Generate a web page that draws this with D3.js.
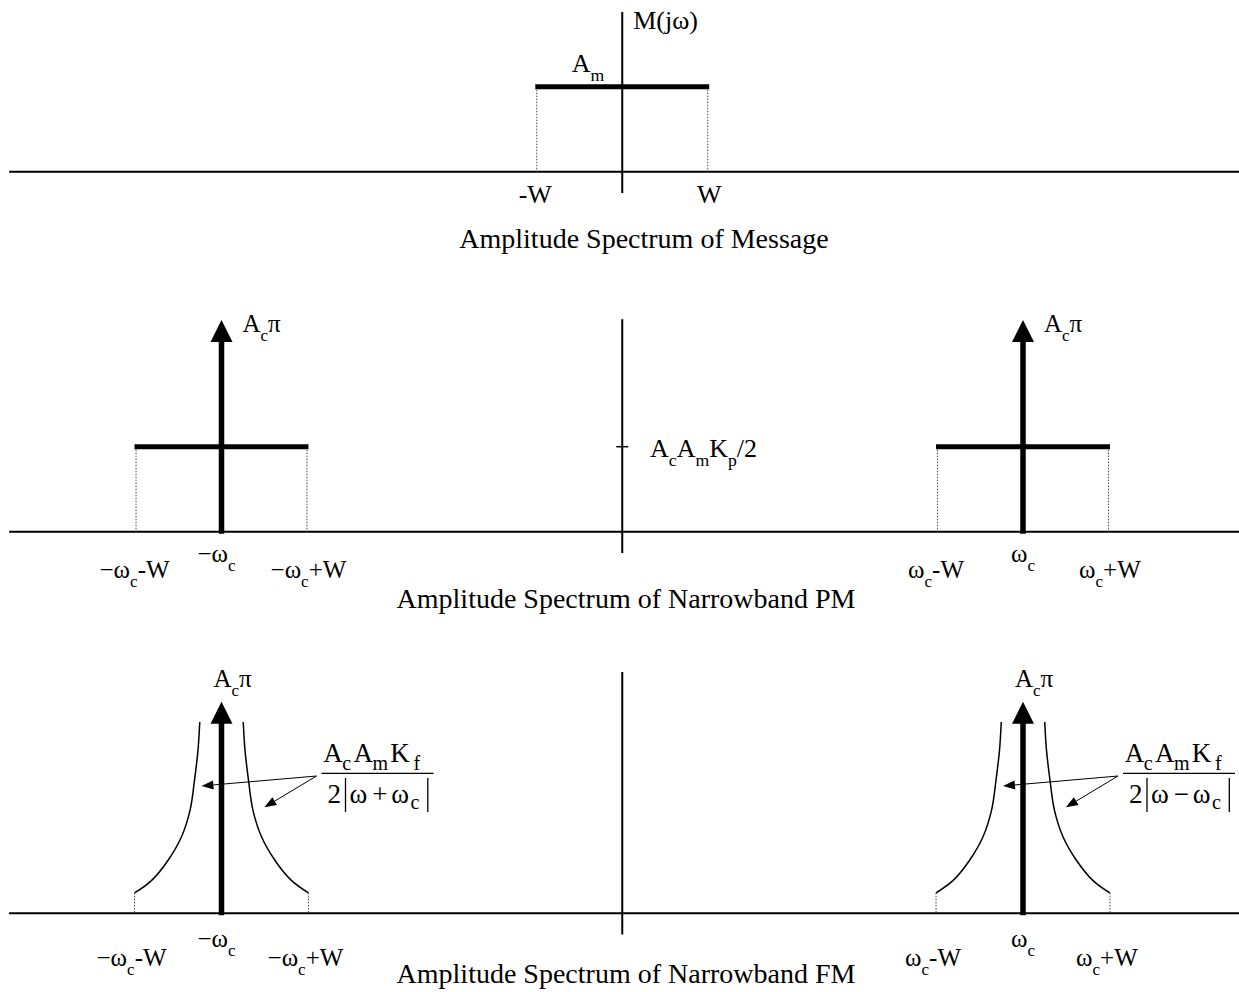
<!DOCTYPE html>
<html>
<head>
<meta charset="utf-8">
<script src="https://cdn.jsdelivr.net/npm/d3@7"></script>
<style>
  body { margin: 0; background: #fff; }
  text { font-family: "Liberation Serif", "Times New Roman", serif; fill: #000; }
</style>
</head>
<body>
<div id="chart"></div>
<script>
// frequencies are in units of the carrier wc, amplitudes in units of the message level Am
var wc = 1;
var W = 0.217;
var axisExtent = [-1.53, 1.54];

var messageLevel = 1;
var messageTicks = ["-W", "W"];

var carriers = [-wc, wc];
var carrierLabels = ["−ω_c", "ω_c"];
var edgeLabels = [["−ω_c-W", "−ω_c+W"], ["ω_c-W", "ω_c+W"]];
var impulseHeight = 2.49;
var pmLevel = 1;

// FM sidebands, offset from the carrier (in units of W) and level
var fmOffset = [0.25, 0.27, 0.31, 0.36, 0.46, 0.61, 0.80, 1.0];
var fmLevel  = [2.25, 1.92, 1.57, 1.22, 0.90, 0.63, 0.39, 0.24];

// annotation arrows: tail and tips, offset from the carrier (wc units) and level
var noteTail = [0.237, 1.615];
var noteTips = [[-0.05, 1.498], [0.107, 1.247]];

var titles = ["Amplitude Spectrum of Message",
              "Amplitude Spectrum of Narrowband PM",
              "Amplitude Spectrum of Narrowband FM"];

var svgWidth = 1239, svgHeight = 992;

var svg = d3.select("#chart").append("svg")
  .attr("width", svgWidth)
  .attr("height", svgHeight);

var x = d3.scaleLinear().domain([-wc, wc]).range([221.5, 1023]);

function yFor(base) {
  return d3.scaleLinear().domain([0, 1]).range([base, base - 85]);
}

// text with "_c" style subscripts
function richText(g, str, px, py, size, anchor) {
  var t = g.append("text")
    .attr("x", px).attr("y", py)
    .attr("font-size", size)
    .attr("text-anchor", anchor || "middle");
  var parts = str.split(/(_.)/).filter(function(s) { return s.length; });
  var cur = 0;
  parts.forEach(function(p) {
    var sub = p[0] === "_";
    var want = sub ? size * 0.36 : 0;
    t.append("tspan")
      .attr("dy", want - cur)
      .attr("font-size", sub ? size * 0.68 : size)
      .text(sub ? p[1] : p);
    cur = want;
  });
  return t;
}

function line(g, x1, y1, x2, y2, w) {
  return g.append("line")
    .attr("x1", x1).attr("y1", y1).attr("x2", x2).attr("y2", y2)
    .attr("stroke", "#000").attr("stroke-width", w);
}

function dotted(g, px, y1, y2) {
  return g.append("line")
    .attr("x1", px).attr("y1", y1).attr("x2", px).attr("y2", y2)
    .attr("stroke", "#444").attr("stroke-width", 1)
    .attr("stroke-dasharray", "1.5,1.5");
}

function impulse(g, y, f) {
  var top = y(impulseHeight);
  line(g, x(f), y(0) + 2, x(f), top + 18, 5.5);
  g.append("path")
    .attr("d", "M" + (x(f) - 11) + "," + (top + 22) + "L" + x(f) + "," + top + "L" + (x(f) + 11) + "," + (top + 22) + "Z")
    .attr("fill", "#000");
}

function frame(g, y, lo, hi) {
  line(g, x(axisExtent[0]), y(0), x(axisExtent[1]), y(0), 2);
  line(g, x(0), y(lo), x(0), y(hi), 2);
}

// ---------- panel 1: message ----------
var y1 = yFor(171.7);
var p1 = svg.append("g");
frame(p1, y1, -0.25, 1.88);
dotted(p1, x(-W) + 1.5, y1(messageLevel), y1(0));
dotted(p1, x(W) - 1.5, y1(messageLevel), y1(0));
line(p1, x(-W), y1(messageLevel), x(W), y1(messageLevel), 5);
richText(p1, "M(jω)", x(0) + 11, 29, 26, "start");
richText(p1, "A_m", 571.7, 71.7, 26, "start");
[-W, W].forEach(function(f, i) {
  richText(p1, messageTicks[i], x(f), 203, 26);
});
p1.append("text").attr("x", 644).attr("y", 248).attr("font-size", 28)
  .attr("text-anchor", "middle").text(titles[0]);

// ---------- panel 2: narrowband PM ----------
var y2 = yFor(531.7);
var p2 = svg.append("g");
frame(p2, y2, -0.25, 2.5);
line(p2, x(0) - 6, y2(pmLevel), x(0) + 6, y2(pmLevel), 1.5);
richText(p2, "A_cA_mK_p/2", 650, 456.7, 26, "start");
carriers.forEach(function(f, i) {
  dotted(p2, x(f - W) + 1.5, y2(pmLevel), y2(0));
  dotted(p2, x(f + W) - 1.5, y2(pmLevel), y2(0));
  line(p2, x(f - W), y2(pmLevel), x(f + W), y2(pmLevel), 5);
  impulse(p2, y2, f);
  richText(p2, "A_cπ", x(f) + 21, 331.7, 25, "start");
  richText(p2, carrierLabels[i], x(f) - (i ? 0 : 5), 562, 25);
  richText(p2, edgeLabels[i][0], x(f - W), 578, 25);
  richText(p2, edgeLabels[i][1], x(f + W), 578, 25);
});
p2.append("text").attr("x", 626).attr("y", 608).attr("font-size", 28)
  .attr("text-anchor", "middle").text(titles[1]);

// ---------- panel 3: narrowband FM ----------
var y3 = yFor(913.3);
var p3 = svg.append("g");
frame(p3, y3, -0.25, 2.84);

var sideband = d3.line().curve(d3.curveCatmullRom.alpha(0.5));

carriers.forEach(function(f, i) {
  var right = fmOffset.map(function(d, k) { return [x(f + d * W), y3(fmLevel[k])]; });
  var left = fmOffset.map(function(d, k) { return [x(f - d * W), y3(fmLevel[k])]; });
  [left, right].forEach(function(pts) {
    p3.append("path").attr("d", sideband(pts))
      .attr("fill", "none").attr("stroke", "#000").attr("stroke-width", 1.5);
  });
  dotted(p3, x(f - W), y3(fmLevel[fmLevel.length - 1]), y3(0));
  dotted(p3, x(f + W), y3(fmLevel[fmLevel.length - 1]), y3(0));
  impulse(p3, y3, f);
  richText(p3, "A_cπ", x(f) + 11, 687, 25);
  richText(p3, carrierLabels[i], x(f) - (i ? 0 : 5), 947, 25);
  richText(p3, edgeLabels[i][0], x(f - W) - 3, 966, 25);
  richText(p3, edgeLabels[i][1], x(f + W) - 3, 966, 25);

  // annotation arrows
  var tx = x(f + noteTail[0]), ty = y3(noteTail[1]);
  noteTips.forEach(function(tp) {
    var hx = x(f + tp[0]), hy = y3(tp[1]);
    var ang = Math.atan2(hy - ty, hx - tx);
    var len = 12, half = 4.5;
    var bx = hx - len * Math.cos(ang), by = hy - len * Math.sin(ang);
    line(p3, tx, ty, bx, by, 1);
    p3.append("path")
      .attr("d", "M" + hx + "," + hy +
        "L" + (bx + half * Math.sin(ang)) + "," + (by - half * Math.cos(ang)) +
        "L" + (bx - half * Math.sin(ang)) + "," + (by + half * Math.cos(ang)) + "Z")
      .attr("fill", "#000");
  });

  // the fraction  AcAmKf / 2|w -+ wc|
  var fx = x(f) + 100, fy = 773.3;
  line(p3, fx, fy, fx + 112, fy, 1.2);
  var num = [["A", 1.7, 0], ["c", 20.7, 1], ["A", 32, 0], ["m", 51, 1], ["K", 68.7, 0], ["f", 92, 1]];
  num.forEach(function(d) {
    p3.append("text").attr("x", fx + d[1]).attr("y", d[2] ? 769.5 : 762)
      .attr("font-size", d[2] ? 20 : 27).text(d[0]);
  });
  var den = [["2", 6, 0], ["ω", 28, 0], [i ? "−" : "+", 50.7, 0], ["ω", 69.7, 0], ["c", 89, 1]];
  den.forEach(function(d) {
    p3.append("text").attr("x", fx + d[1]).attr("y", d[2] ? 808.5 : 803.3)
      .attr("font-size", d[2] ? 20 : 27).text(d[0]);
  });
  line(p3, fx + 24, 778, fx + 24, 812, 1.3);
  line(p3, fx + 106.3, 778, fx + 106.3, 812, 1.3);
});
p3.append("text").attr("x", 626).attr("y", 983).attr("font-size", 28)
  .attr("text-anchor", "middle").text(titles[2]);
</script>
</body>
</html>
